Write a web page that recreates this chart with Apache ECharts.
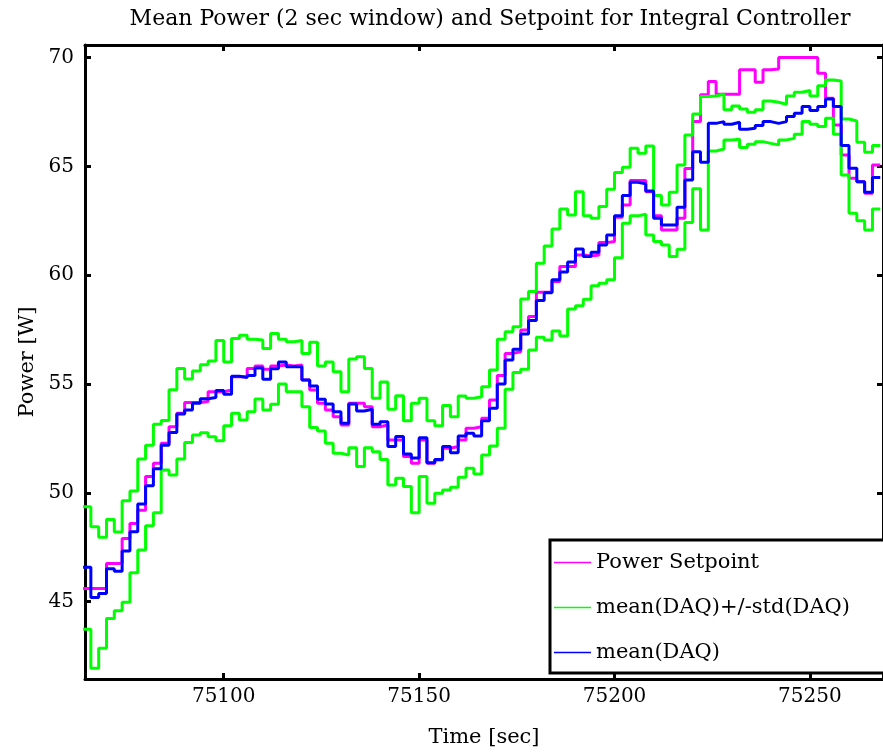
<!DOCTYPE html>
<html><head><meta charset="utf-8">
<script src="https://cdn.jsdelivr.net/npm/echarts@6/dist/echarts.min.js"></script>
<style>html,body{margin:0;padding:0;background:#fff}#c{width:883px;height:753px}</style>
</head><body><div id="c"></div>
<script>
const time = [75064,75066,75068,75070,75072,75074,75076,75078,75080,75082,
75084,75086,75088,75090,75092,75094,75096,75098,75100,75102,
75104,75106,75108,75110,75112,75114,75116,75118,75120,75122,
75124,75126,75128,75130,75132,75134,75136,75138,75140,75142,
75144,75146,75148,75150,75152,75154,75156,75158,75160,75162,
75164,75166,75168,75170,75172,75174,75176,75178,75180,75182,
75184,75186,75188,75190,75192,75194,75196,75198,75200,75202,
75204,75206,75208,75210,75212,75214,75216,75218,75220,75222,
75224,75226,75228,75230,75232,75234,75236,75238,75240,75242,
75244,75246,75248,75250,75252,75254,75256,75258,75260,75262,
75264,75266,75268];

const setpoint = [45.61,45.61,45.61,46.76,46.76,47.9,48.6,49.2,50.75,51.36,
52.28,53.04,53.66,54.15,54.15,54.2,54.65,54.65,54.73,55.34,
55.34,55.72,55.83,55.68,55.83,55.88,55.83,
55.88,55.19,54.73,54.12,53.81,53.5,53.12,54.12,54.12,53.96,53.04,53.12,52.43,52.43,51.67,51.36,52.43,51.36,51.51,52.05,52.13,52.43,52.97,53.04,53.43,54.27,
55.4,56.41,56.49,57.49,58.1,59.22,59.22,59.71,60.4,60.4,60.93,60.89,60.93,61.5,61.55,62.66,63.23,64.35,64.35,63.84,62.73,62.08,62.08,62.62,64.9,
67.06,68.29,68.9,68.32,68.32,68.32,69.44,69.44,68.87,69.44,69.48,70.0,70.0,70.0,70.0,70.0,69.28,68.13,66.91,65.53,64.46,64.3,63.77,65.07,
65.07];

const meanDAQ = [46.58,45.2,45.38,46.52,46.4,47.33,48.22,49.49,50.33,51.11,
52.19,52.78,53.63,53.81,54.12,54.33,54.38,54.7,54.53,55.36,
55.3,55.4,55.74,55.22,55.71,56.02,55.8,
55.8,55.19,54.91,54.3,54.08,53.73,53.2,54.08,53.76,53.84,53.15,53.27,52.13,52.59,51.79,51.6,52.54,51.39,51.54,52.13,51.85,52.62,52.74,52.62,53.32,53.89,
55.0,56.11,56.6,57.3,57.92,58.84,59.2,59.79,60.15,60.61,61.21,60.86,61.06,61.39,61.85,62.73,63.66,64.27,64.2,63.87,62.62,62.31,62.31,63.12,64.38,
65.68,65.19,66.98,67.06,66.94,67.03,66.71,66.75,66.88,67.06,66.98,67.06,67.29,67.44,67.75,67.57,67.75,68.1,67.75,65.96,64.92,64.3,63.81,64.49,
64.49];

const upperDAQ = [49.37,48.45,47.96,48.78,48.2,49.64,50.09,51.56,52.19,53.15,
53.33,54.74,55.72,55.23,55.6,55.89,56.06,57.0,56.02,57.1,
57.24,57.06,57.03,56.63,57.33,57.06,56.95,
57.0,56.41,56.92,55.83,56.01,55.57,54.65,56.15,56.26,55.72,54.35,55.1,53.84,54.47,53.32,54.12,54.35,53.32,53.09,54.02,53.5,54.45,54.35,54.42,54.88,55.65,
57.06,57.41,57.64,58.91,59.25,60.55,61.35,62.13,63.05,62.77,63.84,62.73,62.62,63.16,63.95,64.72,64.96,65.84,65.61,65.94,63.66,63.23,63.81,65.07,66.45,
67.41,68.21,68.24,68.33,67.6,67.78,67.64,67.49,67.6,68.01,67.95,67.86,68.24,68.41,68.49,68.24,68.71,68.97,68.93,67.18,67.09,66.11,65.65,65.96,
65.96];

const lowerDAQ = [43.74,41.94,42.86,44.23,44.59,44.98,46.33,47.38,48.49,49.09,
51.05,50.82,51.56,52.32,52.66,52.77,52.58,52.4,53.09,53.66,
53.35,53.73,54.31,53.81,54.07,55.0,54.65,
54.65,53.96,53.0,52.84,52.28,51.82,51.74,52.08,51.21,52.08,51.89,51.54,50.36,50.67,50.29,49.09,50.75,49.52,49.98,50.13,50.26,50.72,51.13,50.87,51.74,52.16,
52.97,54.76,55.53,55.68,56.57,57.15,57.03,57.44,57.21,58.45,58.6,58.9,59.52,59.63,59.79,60.81,62.39,62.73,62.8,61.85,61.55,61.39,60.86,61.19,62.42,
63.97,62.08,65.71,65.8,66.22,66.25,65.87,66.02,66.14,66.06,65.99,66.22,66.29,66.48,67.06,66.94,66.83,67.21,66.48,64.61,62.85,62.5,62.08,63.05,
63.05];

const xTicks = [75100, 75150, 75200, 75250];
const yTicks = [45, 50, 55, 60, 65, 70];
const seriesNames = ['Power Setpoint', 'mean(DAQ)+/-std(DAQ)', 'mean(DAQ)'];

const FONT = 'DejaVu Serif';
const X_MIN = 75064.5, X_MAX = 75268.7, Y_MIN = 41.45, Y_MAX = 70.58;

const pair = ys => time.map((t, i) => [t, ys[i]]);
const plain = v => String(v);
const frameLine = {show: true, onZero: false, lineStyle: {color: '#000', width: 3}};
const tickStyle = {color: '#000', width: 3};

const chart = echarts.init(document.getElementById('c'), null, {renderer: 'canvas'});
chart.setOption({
  animation: false,
  backgroundColor: '#fff',
  title: {
    text: 'Mean Power (2 sec window) and Setpoint for Integral Controller',
    left: 485, top: 3, textAlign: 'center',
    textStyle: {fontFamily: FONT, fontSize: 22, fontWeight: 'normal', color: '#000'}
  },
  grid: {left: 85, top: 45, right: -3, bottom: 74},
  legend: {
    data: seriesNames,
    orient: 'vertical', left: 550, top: 540,
    padding: [10, 60, 8, 4],
    itemGap: 20, itemWidth: 37, itemHeight: 1.5, icon: 'rect',
    backgroundColor: '#fff', borderColor: '#000', borderWidth: 3, borderRadius: 0,
    textStyle: {fontFamily: FONT, fontSize: 21, color: '#000', lineHeight: 25},
    selectedMode: false, z: 10
  },
  xAxis: [{
    type: 'value', position: 'bottom', min: X_MIN, max: X_MAX,
    axisLine: frameLine,
    axisTick: {show: true, inside: true, length: 6, customValues: xTicks, lineStyle: tickStyle},
    axisLabel: {show: true, customValues: xTicks, formatter: plain, margin: 8, fontFamily: FONT, fontSize: 20, color: '#000'},
    splitLine: {show: false},
    name: 'Time [sec]', nameLocation: 'middle', nameGap: 48,
    nameTextStyle: {fontFamily: FONT, fontSize: 21, color: '#000'}
  }, {
    type: 'value', position: 'top', min: X_MIN, max: X_MAX,
    axisLine: frameLine,
    axisTick: {show: true, inside: true, length: 6, customValues: xTicks, lineStyle: tickStyle},
    axisLabel: {show: false},
    splitLine: {show: false}
  }],
  yAxis: [{
    type: 'value', position: 'left', min: Y_MIN, max: Y_MAX,
    axisLine: frameLine,
    axisTick: {show: true, inside: true, length: 6, customValues: yTicks, lineStyle: tickStyle},
    axisLabel: {show: true, customValues: yTicks, formatter: plain, margin: 11, fontFamily: FONT, fontSize: 20, color: '#000'},
    splitLine: {show: false},
    name: 'Power [W]', nameLocation: 'middle', nameGap: 45, nameRotate: 90,
    nameTextStyle: {fontFamily: FONT, fontSize: 21, color: '#000'}
  }, {
    type: 'value', position: 'right', min: Y_MIN, max: Y_MAX,
    axisLine: frameLine,
    axisTick: {show: true, inside: true, length: 6, customValues: yTicks, lineStyle: tickStyle},
    axisLabel: {show: false},
    splitLine: {show: false}
  }],
  series: [
    {name: seriesNames[0], type: 'line', step: 'end', data: pair(setpoint), symbol: 'none',
     color: '#ff00ff', lineStyle: {width: 3}, z: 2},
    {name: seriesNames[1], type: 'line', step: 'end', data: pair(upperDAQ), symbol: 'none',
     color: '#00ff00', lineStyle: {width: 3}, z: 3},
    {name: seriesNames[1], type: 'line', step: 'end', data: pair(lowerDAQ), symbol: 'none',
     color: '#00ff00', lineStyle: {width: 3}, z: 3},
    {name: seriesNames[2], type: 'line', step: 'end', data: pair(meanDAQ), symbol: 'none',
     color: '#0000ff', lineStyle: {width: 3}, z: 4}
  ]
});
</script>
</body></html>
